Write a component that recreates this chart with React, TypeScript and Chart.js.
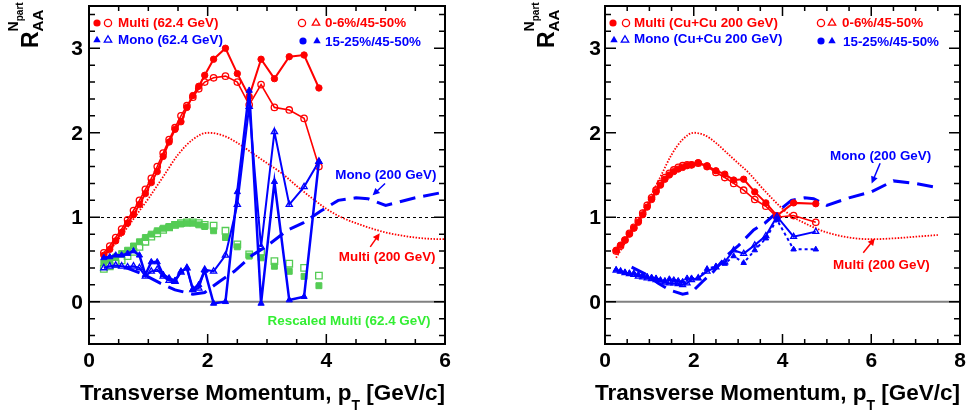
import React, { useEffect, useRef } from "react";
import { Chart, registerables } from "chart.js";
Chart.register(...registerables);

// ---------------- DATA ----------------
const PT_62 = [0.25, 0.35, 0.45, 0.55, 0.65, 0.75, 0.85, 0.95, 1.05, 1.15, 1.25, 1.35, 1.45, 1.55, 1.65, 1.75, 1.85, 1.95, 2.1, 2.3, 2.5, 2.7, 2.9, 3.125, 3.375, 3.625, 3.875];
const multi62Mid = [0.55, 0.62, 0.72, 0.82, 0.93, 1.03, 1.15, 1.28, 1.41, 1.54, 1.72, 1.89, 2.04, 2.13, 2.3, 2.44, 2.55, 2.68, 2.87, 3.0, 2.7, 2.43, 2.87, 2.64, 2.9, 2.92, 2.53];
const multi62Central = [0.58, 0.66, 0.76, 0.86, 0.97, 1.08, 1.2, 1.33, 1.46, 1.6, 1.76, 1.92, 2.06, 2.2, 2.32, 2.42, 2.52, 2.6, 2.65, 2.67, 2.6, 2.33, 2.57, 2.3, 2.27, 2.17, 1.6];
const mono62Mid = [0.52, 0.53, 0.55, 0.55, 0.57, 0.6, 0.55, 0.32, 0.47, 0.47, 0.32, 0.28, 0.25, 0.36, 0.4, 0.15, 0.2, 0.37, -0.02, 0.0, 1.3, 2.5, -0.02, 1.42, 0.02, 0.06, 1.66];
const mono62Central = [0.4, 0.42, 0.43, 0.42, 0.41, 0.42, 0.4, 0.3, 0.36, 0.38, 0.3, 0.25, 0.24, 0.35, 0.4, 0.14, 0.16, 0.38, 0.36, 0.55, 1.15, 2.31, 0.65, 2.01, 1.15, 1.36, 1.66];
const rescaled62Mid = [0.46, 0.5, 0.53, 0.57, 0.61, 0.66, 0.71, 0.76, 0.8, 0.84, 0.87, 0.89, 0.91, 0.92, 0.93, 0.93, 0.91, 0.89, 0.84, 0.76, 0.65, 0.54, 0.52, 0.42, 0.36, 0.3, 0.19];
const rescaled62Central = [0.39, 0.42, 0.45, 0.49, 0.54, 0.59, 0.65, 0.71, 0.77, 0.81, 0.85, 0.88, 0.91, 0.93, 0.94, 0.94, 0.93, 0.91, 0.9, 0.84, 0.68, 0.56, 0.59, 0.48, 0.45, 0.4, 0.31];

const PT_CU = [0.25, 0.35, 0.45, 0.55, 0.65, 0.75, 0.85, 0.95, 1.05, 1.15, 1.25, 1.35, 1.45, 1.55, 1.65, 1.75, 1.85, 1.95, 2.1, 2.3, 2.5, 2.7, 2.9, 3.125, 3.375, 3.625, 3.875, 4.25, 4.75];
const multiCuMid = [0.61, 0.67, 0.73, 0.8, 0.87, 0.94, 1.03, 1.12, 1.21, 1.3, 1.38, 1.45, 1.5, 1.54, 1.57, 1.59, 1.61, 1.62, 1.645, 1.61, 1.55, 1.51, 1.44, 1.45, 1.3, 1.17, 1.02, 1.17, 1.16];
const multiCuCentral = [0.6, 0.66, 0.73, 0.81, 0.88, 0.96, 1.05, 1.14, 1.23, 1.32, 1.4, 1.47, 1.52, 1.56, 1.59, 1.61, 1.62, 1.62, 1.64, 1.6, 1.53, 1.47, 1.4, 1.32, 1.21, 1.13, 1.0, 1.02, 0.94];
const monoCuCentral = [0.37, 0.36, 0.34, 0.33, 0.32, 0.3, 0.29, 0.28, 0.27, 0.26, 0.24, 0.23, 0.22, 0.22, 0.21, 0.2, 0.22, 0.26, 0.28, 0.36, 0.41, 0.47, 0.61, 0.57, 0.67, 0.78, 1.01, 0.77, 0.83];
const monoCuMid = [0.38, 0.36, 0.35, 0.34, 0.34, 0.32, 0.31, 0.3, 0.29, 0.28, 0.26, 0.25, 0.27, 0.26, 0.25, 0.24, 0.28, 0.28, 0.28, 0.39, 0.42, 0.45, 0.54, 0.46, 0.61, 0.75, 0.97, 0.62, 0.62];

const PT_MULTI200 = [0.25, 0.5, 0.75, 1.0, 1.25, 1.5, 1.75, 2.0, 2.25, 2.5, 2.75, 3.0, 3.25, 3.5, 3.75, 4.0, 4.25, 4.5, 4.75, 5.0, 5.5, 6.0, 6.5, 7.0, 7.5];
const multi200 = [0.52, 0.74, 0.98, 1.22, 1.48, 1.74, 1.92, 2.0, 1.97, 1.88, 1.76, 1.64, 1.52, 1.37, 1.23, 1.1, 1.0, 0.93, 0.87, 0.82, 0.76, 0.74, 0.75, 0.77, 0.79];
const PT_MONO200 = [0.6, 0.9, 1.2, 1.45, 1.75, 1.95, 2.2, 2.45, 2.75, 3.0, 3.35, 3.6, 3.9, 4.2, 4.5, 4.7, 5.0, 5.5, 6.0, 6.5, 7.0, 7.5];
const mono200 = [0.41, 0.33, 0.22, 0.14, 0.09, 0.11, 0.24, 0.36, 0.55, 0.66, 0.85, 0.93, 1.07, 1.2, 1.23, 1.22, 1.14, 1.23, 1.3, 1.43, 1.4, 1.35];

const X_TICKS_LEFT = [0, 2, 4, 6];
const X_TICKS_RIGHT = [0, 2, 4, 6, 8];
const Y_TICKS = [0, 1, 2, 3];

// ---------------- STYLE ----------------
const RED = "#ff0000";
const BLUE = "#0000ff";
const GREEN = "#55cc55";
const GREEN_TEXT = "#33ee33";
const FAMILY = '"Liberation Sans", Arial, Helvetica, sans-serif';
const W = 483;
const H = 412;

const pts = (xs: number[], ys: number[]) => xs.map((x, i) => ({ x, y: ys[i] }));

type Mk = { dx: number; dy: number; shape: "circle" | "triangle"; filled: boolean; color: string };
type Lt = { dx: number; dy: number; text: string; color: string };
type Ann = { x: number; y: number; text: string; color: string };
type Arr = { x0: number; y0: number; x1: number; y1: number; color: string };

function drawMarker(ctx: CanvasRenderingContext2D, x: number, y: number, m: Mk) {
  ctx.save();
  ctx.strokeStyle = m.color;
  ctx.fillStyle = m.color;
  ctx.lineWidth = 1.3;
  ctx.beginPath();
  if (m.shape === "circle") {
    ctx.arc(x, y, 3.6, 0, Math.PI * 2);
  } else {
    const r = 4.3;
    ctx.moveTo(x, y - r);
    ctx.lineTo(x + r * 0.866, y + r * 0.5);
    ctx.lineTo(x - r * 0.866, y + r * 0.5);
    ctx.closePath();
  }
  if (m.filled) ctx.fill();
  else ctx.stroke();
  ctx.restore();
}

function makePlugin(cfg: {
  xTicks: number[];
  xMax: number;
  yLabelGap: number;
  markers: Mk[];
  texts: Lt[];
  anns: Ann[];
  arrows: Arr[];
}) {
  return {
    id: "rootStyle",
    beforeDatasetsDraw(chart: any) {
      const ctx = chart.ctx as CanvasRenderingContext2D;
      const { left, right } = chart.chartArea;
      const ys = chart.scales.y;
      ctx.save();
      ctx.strokeStyle = "#808080";
      ctx.lineWidth = 2;
      ctx.beginPath();
      const y0 = ys.getPixelForValue(0);
      ctx.moveTo(left, y0);
      ctx.lineTo(right, y0);
      ctx.stroke();
      ctx.strokeStyle = "#000";
      ctx.lineWidth = 1;
      ctx.setLineDash([3, 3]);
      ctx.beginPath();
      const y1 = Math.round(ys.getPixelForValue(1)) + 0.5;
      ctx.moveTo(left, y1);
      ctx.lineTo(right, y1);
      ctx.stroke();
      ctx.restore();
    },
    afterDraw(chart: any) {
      const ctx = chart.ctx as CanvasRenderingContext2D;
      const { left, right, top, bottom } = chart.chartArea;
      const xs = chart.scales.x;
      const ys = chart.scales.y;
      ctx.save();
      ctx.strokeStyle = "#000";
      ctx.lineWidth = 2;
      ctx.strokeRect(left, top, right - left, bottom - top);
      ctx.lineWidth = 1.5;
      ctx.beginPath();
      for (let i = -2; i <= 17; i++) {
        const v = i * 0.2;
        const py = ys.getPixelForValue(v);
        const major = i % 5 === 0;
        const len = major ? 11 : 6;
        ctx.moveTo(left, py);
        ctx.lineTo(left + len, py);
        ctx.moveTo(right, py);
        ctx.lineTo(right - len, py);
      }
      const nx = Math.round(cfg.xMax / 0.5);
      for (let i = 1; i < nx; i++) {
        const v = i * 0.5;
        const px = xs.getPixelForValue(v);
        const major = i % 4 === 0;
        const len = major ? 10 : 5;
        ctx.moveTo(px, bottom);
        ctx.lineTo(px, bottom - len);
        ctx.moveTo(px, top);
        ctx.lineTo(px, top + len);
      }
      ctx.stroke();

      ctx.fillStyle = "#000";
      ctx.font = `bold 21px ${FAMILY}`;
      ctx.textAlign = "right";
      ctx.textBaseline = "middle";
      Y_TICKS.forEach((v) => {
        ctx.fillText(String(v), left - cfg.yLabelGap, ys.getPixelForValue(v) + 1);
      });
      ctx.textAlign = "center";
      ctx.textBaseline = "alphabetic";
      cfg.xTicks.forEach((v) => {
        ctx.fillText(String(v), xs.getPixelForValue(v), bottom + 23);
      });

      const p1 = "Transverse Momentum, p";
      const p3 = " [GeV/c]";
      const big = `bold 22.5px ${FAMILY}`;
      const small = `bold 14px ${FAMILY}`;
      ctx.font = big;
      const w1 = ctx.measureText(p1).width;
      const w3 = ctx.measureText(p3).width;
      ctx.font = small;
      const ws = ctx.measureText("T").width;
      const sx = right - (w1 + ws + w3);
      ctx.textAlign = "left";
      ctx.font = big;
      ctx.fillText(p1, sx, bottom + 56);
      ctx.font = small;
      ctx.fillText("T", sx + w1, bottom + 66);
      ctx.font = big;
      ctx.fillText(p3, sx + w1 + ws, bottom + 56);

      ctx.save();
      ctx.translate(left - 51, 48);
      ctx.rotate(-Math.PI / 2);
      ctx.font = `bold 23px ${FAMILY}`;
      ctx.fillText("R", 0, 0);
      const wr = ctx.measureText("R").width;
      ctx.font = `bold 15px ${FAMILY}`;
      ctx.fillText("AA", wr, 5);
      ctx.font = `bold 14px ${FAMILY}`;
      ctx.fillText("N", wr, -20);
      const wn = ctx.measureText("N").width;
      ctx.font = `bold 10px ${FAMILY}`;
      ctx.fillText("part", wr + wn, -15);
      ctx.restore();

      cfg.markers.forEach((m) => drawMarker(ctx, left + m.dx, top + m.dy, m));
      ctx.font = `bold 13.4px ${FAMILY}`;
      ctx.textAlign = "left";
      ctx.textBaseline = "middle";
      cfg.texts.forEach((t) => {
        ctx.fillStyle = t.color;
        ctx.fillText(t.text, left + t.dx, top + t.dy);
      });

      cfg.anns.forEach((a) => {
        ctx.fillStyle = a.color;
        ctx.fillText(a.text, xs.getPixelForValue(a.x), ys.getPixelForValue(a.y));
      });
      cfg.arrows.forEach((a) => {
        const x0 = xs.getPixelForValue(a.x0);
        const y0 = ys.getPixelForValue(a.y0);
        const x1 = xs.getPixelForValue(a.x1);
        const y1 = ys.getPixelForValue(a.y1);
        const ang = Math.atan2(y1 - y0, x1 - x0);
        ctx.strokeStyle = a.color;
        ctx.fillStyle = a.color;
        ctx.lineWidth = 1.5;
        ctx.beginPath();
        ctx.moveTo(x0, y0);
        ctx.lineTo(x1 - 4 * Math.cos(ang), y1 - 4 * Math.sin(ang));
        ctx.stroke();
        ctx.beginPath();
        ctx.moveTo(x1, y1);
        ctx.lineTo(x1 - 7 * Math.cos(ang) + 3.5 * Math.sin(ang), y1 - 7 * Math.sin(ang) - 3.5 * Math.cos(ang));
        ctx.lineTo(x1 - 7 * Math.cos(ang) - 3.5 * Math.sin(ang), y1 - 7 * Math.sin(ang) + 3.5 * Math.cos(ang));
        ctx.closePath();
        ctx.fill();
      });
      ctx.restore();
    },
  };
}

const lineDs = (data: any[], color: string, opts: any = {}) => ({
  data,
  showLine: true,
  borderColor: color,
  backgroundColor: color,
  borderWidth: 2,
  tension: 0,
  pointRadius: 0,
  ...opts,
});

const markerDs = (data: any[], color: string, style: string, filled: boolean, radius: number, withLine: boolean, lw = 2, opts: any = {}) => ({
  data,
  showLine: withLine,
  borderColor: color,
  backgroundColor: color,
  borderWidth: lw,
  tension: 0,
  pointStyle: style,
  pointRadius: radius,
  pointBorderColor: color,
  pointBorderWidth: filled ? 1 : 1.3,
  pointBackgroundColor: filled ? color : "rgba(0,0,0,0)",
  ...opts,
});

function leftDatasets() {
  return [
    markerDs(pts(PT_62, mono62Mid), BLUE, "triangle", true, 3.6, true, 2.5, { order: 0 }),
    markerDs(pts(PT_62, mono62Central), BLUE, "triangle", false, 3.6, true, 2, { order: 1 }),
    markerDs(pts(PT_62, multi62Mid), RED, "circle", true, 3.2, true, 2, { order: 2 }),
    markerDs(pts(PT_62, multi62Central), RED, "circle", false, 3.2, true, 1.6, { order: 3 }),
    lineDs(pts(PT_MONO200, mono200), BLUE, { borderWidth: 3, borderDash: [16, 8], order: 4, clip: 0 }),
    lineDs(pts(PT_MULTI200, multi200), RED, { borderWidth: 1.8, borderDash: [1.5, 1.5], cubicInterpolationMode: "monotone", order: 5, clip: 0 }),
    markerDs(pts(PT_62, rescaled62Mid), GREEN, "rect", true, 4.2, false, 1, { order: 6 }),
    markerDs(pts(PT_62, rescaled62Central), GREEN, "rect", false, 4.6, false, 1, { order: 7 }),
  ];
}

function rightDatasets() {
  return [
    markerDs(pts(PT_CU, monoCuCentral), BLUE, "triangle", false, 3.4, true, 2, { order: 0 }),
    markerDs(pts(PT_CU, monoCuMid), BLUE, "triangle", true, 3.2, true, 2, { order: 1, borderDash: [3, 3] }),
    markerDs(pts(PT_CU, multiCuMid), RED, "circle", true, 3.2, true, 2, { order: 2 }),
    markerDs(pts(PT_CU, multiCuCentral), RED, "circle", false, 3.2, true, 1.6, { order: 3 }),
    lineDs(pts(PT_MONO200, mono200), BLUE, { borderWidth: 3, borderDash: [16, 8], order: 4, clip: 0 }),
    lineDs(pts(PT_MULTI200, multi200), RED, { borderWidth: 1.8, borderDash: [1.5, 1.5], cubicInterpolationMode: "monotone", order: 5, clip: 0 }),
  ];
}

const leftCfg = {
  xTicks: X_TICKS_LEFT,
  xMax: 6,
  yLabelGap: 6,
  markers: [
    { dx: 8, dy: 17, shape: "circle", filled: true, color: RED },
    { dx: 19, dy: 17, shape: "circle", filled: false, color: RED },
    { dx: 8, dy: 34, shape: "triangle", filled: true, color: BLUE },
    { dx: 19, dy: 34, shape: "triangle", filled: false, color: BLUE },
    { dx: 213, dy: 17, shape: "circle", filled: false, color: RED },
    { dx: 227, dy: 17, shape: "triangle", filled: false, color: RED },
    { dx: 214, dy: 35, shape: "circle", filled: true, color: BLUE },
    { dx: 228, dy: 35, shape: "triangle", filled: true, color: BLUE },
  ] as Mk[],
  texts: [
    { dx: 29, dy: 17, text: "Multi (62.4 GeV)", color: RED },
    { dx: 29, dy: 34, text: "Mono (62.4 GeV)", color: BLUE },
    { dx: 236, dy: 17, text: "0-6%/45-50%", color: RED },
    { dx: 236, dy: 36, text: "15-25%/45-50%", color: BLUE },
  ],
  anns: [
    { x: 4.15, y: 1.5, text: "Mono (200 GeV)", color: BLUE },
    { x: 4.21, y: 0.53, text: "Multi (200 GeV)", color: RED },
    { x: 3.01, y: -0.236, text: "Rescaled Multi (62.4 GeV)", color: GREEN_TEXT },
  ],
  arrows: [
    { x0: 4.99, y0: 1.4, x1: 4.78, y1: 1.26, color: BLUE },
    { x0: 4.74, y0: 0.65, x1: 4.9, y1: 0.81, color: RED },
  ],
};

const rightCfg = {
  xTicks: X_TICKS_RIGHT,
  xMax: 8,
  yLabelGap: 4,
  markers: [
    { dx: 8, dy: 17, shape: "circle", filled: true, color: RED },
    { dx: 21, dy: 17, shape: "circle", filled: false, color: RED },
    { dx: 9, dy: 34, shape: "triangle", filled: true, color: BLUE },
    { dx: 20, dy: 34, shape: "triangle", filled: false, color: BLUE },
    { dx: 216, dy: 17, shape: "circle", filled: false, color: RED },
    { dx: 227, dy: 17, shape: "triangle", filled: false, color: RED },
    { dx: 216, dy: 35, shape: "circle", filled: true, color: BLUE },
    { dx: 227, dy: 35, shape: "triangle", filled: true, color: BLUE },
  ] as Mk[],
  texts: [
    { dx: 29, dy: 17, text: "Multi (Cu+Cu 200 GeV)", color: RED },
    { dx: 29, dy: 33, text: "Mono (Cu+Cu 200 GeV)", color: BLUE },
    { dx: 237, dy: 17, text: "0-6%/45-50%", color: RED },
    { dx: 238, dy: 36, text: "15-25%/45-50%", color: BLUE },
  ],
  anns: [
    { x: 5.07, y: 1.725, text: "Mono (200 GeV)", color: BLUE },
    { x: 5.14, y: 0.435, text: "Multi (200 GeV)", color: RED },
  ],
  arrows: [
    { x0: 6.2, y0: 1.64, x1: 6.01, y1: 1.4, color: BLUE },
    { x0: 5.82, y0: 0.58, x1: 6.08, y1: 0.75, color: RED },
  ],
};

function Panel(props: { left: number; datasets: () => any[]; cfg: any; padding: any }) {
  const ref = useRef<HTMLCanvasElement>(null);
  useEffect(() => {
    const chart = new Chart(ref.current as HTMLCanvasElement, {
      type: "scatter",
      data: { datasets: props.datasets() },
      options: {
        responsive: false,
        animation: false,
        devicePixelRatio: 1,
        layout: { padding: props.padding },
        plugins: { legend: { display: false }, tooltip: { enabled: false } },
        scales: {
          x: { type: "linear", min: 0, max: props.cfg.xMax, display: false },
          y: { type: "linear", min: -0.5, max: 3.5, display: false },
        },
      },
      plugins: [makePlugin(props.cfg)],
    } as any);
    return () => chart.destroy();
  }, []);
  return (
    <canvas
      ref={ref}
      width={W}
      height={H}
      style={{ position: "absolute", left: props.left, top: 0, width: W, height: H }}
    />
  );
}

export default function App() {
  return (
    <div style={{ position: "fixed", left: 0, top: 0, width: 966, height: 412, background: "#fff", overflow: "hidden" }}>
      <Panel left={0} datasets={leftDatasets} cfg={leftCfg} padding={{ left: 89, right: 38, top: 6, bottom: 68 }} />
      <Panel left={483} datasets={rightDatasets} cfg={rightCfg} padding={{ left: 122, right: 6, top: 6, bottom: 68 }} />
    </div>
  );
}
